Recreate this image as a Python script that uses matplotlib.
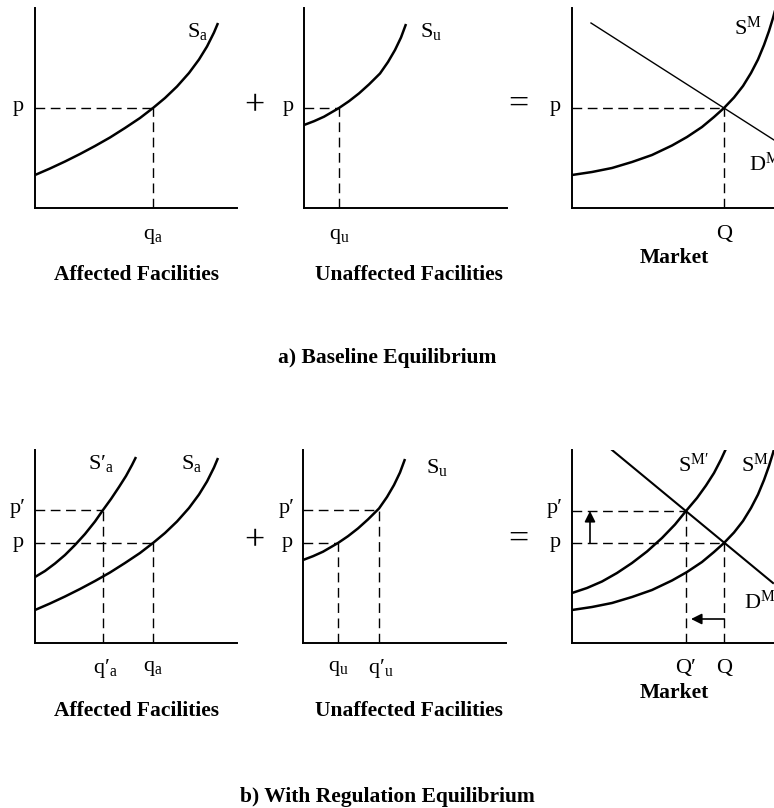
import matplotlib
matplotlib.use('Agg')
import matplotlib.pyplot as plt

plt.rcParams['font.family'] = ['Liberation Serif', 'DejaVu Serif']
plt.rcParams['mathtext.fontset'] = 'custom'
plt.rcParams['mathtext.rm'] = 'Liberation Serif'
plt.rcParams['mathtext.it'] = 'Liberation Serif:italic'
plt.rcParams['mathtext.bf'] = 'Liberation Serif:bold'

W, H = 774, 808

# supply of affected facilities (quantity, price) - baseline and with regulation
sa_q = [0, 15, 30, 45, 60, 75, 90, 105, 118, 130, 142, 154, 164, 172, 179, 183]
sa_p = [33, 39.5, 46.5, 54, 62, 70.5, 80, 90, 100, 110, 121.5, 135, 148.5, 161.5, 175.5, 185]
sa2_q = [0, 10, 20, 30, 40, 50, 60, 68, 76, 84, 91, 97, 101]
sa2_p = [66, 72, 79.5, 88, 98, 109, 121.5, 133, 144, 156, 167, 178, 186]

# supply of unaffected facilities
su_q = [0, 10, 20, 35, 45, 55, 65, 76, 84, 91, 97, 102]
su_p = [83, 86.8, 91.3, 100, 106.8, 114.6, 123.6, 134.5, 146, 158, 170.5, 184]

# market supply, baseline and with regulation
sm_q = [0, 20, 40, 60, 80, 100, 115, 130, 142, 152, 162, 171, 179, 186, 192, 197, 201, 205, 209]
sm_p = [33, 36, 40, 46, 53, 62.5, 71, 81, 91, 100, 110.5, 122, 135, 148.5, 163, 177, 190, 205, 222]
sm2_q = [0, 15, 30, 45, 60, 75, 90, 103, 114, 125, 134, 142, 149, 155]
sm2_p = [50, 55, 61.5, 70, 80, 91.5, 105, 118.5, 132, 145, 157.5, 170, 183.5, 196.5]

# market demand (end points)
dm_q = [19, 202]
dm_p = [185, 68]
dm2_q = [40, 201]
dm2_p = [193, 60]

# equilibrium prices and quantities
p_base, p_reg = 100, 133
pm_reg = 132
qa_base, qa_reg = 118, 68
qu_base, qu_reg = 35, 76
Q_base, Q_reg = 152, 114

fig = plt.figure(figsize=(W / 100, H / 100), dpi=100)

curve = dict(color='black', lw=1.8, solid_capstyle='butt', solid_joinstyle='round')
dash = dict(color='black', lw=1.0, dashes=(7, 4))
fs = 16


def panel(x0, y0, w, h):
    # x0, y0: corner of the axes in picture pixels, measured from the top
    ax = fig.add_axes([x0 / W, (H - y0) / H, w / W, h / H])
    ax.set_xlim(0, w)
    ax.set_ylim(0, h)
    ax.spines['top'].set_visible(False)
    ax.spines['right'].set_visible(False)
    ax.spines['left'].set_linewidth(1.4)
    ax.spines['bottom'].set_linewidth(1.4)
    ax.set_xticks([])
    ax.set_yticks([])
    ax.patch.set_alpha(0)
    return ax


def guide(ax, q, p):
    ax.plot([0, q], [p, p], **dash)
    ax.plot([q, q], [0, p], **dash)


def label(ax, x, y, s, **kw):
    ax.text(x, y, s, fontsize=fs, ha='center', va='center', clip_on=False, **kw)


def bold(x, y, s):
    fig.text(x / W, 1 - y / H, s, fontsize=15.5, fontweight='bold', ha='center', va='center')


# ---------- a) baseline ----------
ax1 = panel(35, 208, 202, 200)
guide(ax1, qa_base, p_base)
ax1.plot(sa_q, sa_p, **curve)
label(ax1, -17, p_base + 1, 'p')
label(ax1, qa_base, -28, r'$\mathrm{q_a}$')
label(ax1, 163, 177, r'$\mathrm{S_a}$')

ax2 = panel(304, 208, 203, 200)
guide(ax2, qu_base, p_base)
ax2.plot(su_q, su_p, **curve)
label(ax2, -16, p_base + 1, 'p')
label(ax2, qu_base, -28, r'$\mathrm{q_u}$')
label(ax2, 127, 177, r'$\mathrm{S_u}$')

ax3 = panel(572, 208, 240, 200)
guide(ax3, Q_base, p_base)
ax3.plot(sm_q, sm_p, **curve)
ax3.plot(dm_q, dm_p, color='black', lw=1.0)
label(ax3, -17, p_base + 1, 'p')
label(ax3, Q_base, -27, 'Q')
label(ax3, 176, 180, r'$\mathrm{S^M}$')
label(ax3, 193, 44, r'$\mathrm{D^M}$')

fig.text(254 / W, 1 - 107 / H, '+', fontsize=26, ha='center', va='center')
fig.text(518 / W, 1 - 105 / H, '=', fontsize=26, ha='center', va='center')
bold(136, 275, 'Affected Facilities')
bold(409, 275, 'Unaffected Facilities')
bold(674, 258, 'Market')
bold(387, 358, 'a) Baseline Equilibrium')

# ---------- b) with regulation ----------
bx1 = panel(35, 643, 202, 193)
guide(bx1, qa_reg, p_reg)
guide(bx1, qa_base, p_base)
bx1.plot(sa2_q, sa2_p, **curve)
bx1.plot(sa_q, sa_p, **curve)
label(bx1, -17, p_reg + 1, 'p′')
label(bx1, -17, p_base + 1, 'p')
label(bx1, qa_reg + 2, -25, r'$\mathrm{q′_a}$')
label(bx1, qa_base, -25, r'$\mathrm{q_a}$')
label(bx1, 66, 180, r'$\mathrm{S′_a}$')
label(bx1, 157, 180, r'$\mathrm{S_a}$')

bx2 = panel(303, 643, 203, 193)
guide(bx2, qu_reg, p_reg)
guide(bx2, qu_base, p_base)
bx2.plot(su_q, su_p, **curve)
label(bx2, -16, p_reg + 1, 'p′')
label(bx2, -16, p_base + 1, 'p')
label(bx2, qu_base, -25, r'$\mathrm{q_u}$')
label(bx2, qu_reg + 2, -25, r'$\mathrm{q′_u}$')
label(bx2, 134, 175, r'$\mathrm{S_u}$')

bx3 = panel(572, 643, 240, 193)
guide(bx3, Q_reg, pm_reg)
guide(bx3, Q_base, p_base)
bx3.plot(sm2_q, sm2_p, **curve)
bx3.plot(sm_q, sm_p, **curve)
bx3.plot(dm2_q, dm2_p, color='black', lw=1.5)
arrow = dict(arrowstyle='-|>', color='black', lw=1.2, mutation_scale=16, shrinkA=0, shrinkB=0)
bx3.annotate('', xy=(18, pm_reg), xytext=(18, p_base), arrowprops=arrow)
bx3.annotate('', xy=(Q_reg + 5, 24), xytext=(Q_base, 24), arrowprops=arrow)
label(bx3, -17, pm_reg + 2, 'p′')
label(bx3, -17, p_base + 1, 'p')
label(bx3, Q_reg, -25, 'Q′')
label(bx3, Q_base, -25, 'Q')
label(bx3, 122, 178, r'$\mathrm{S^{M′}}$')
label(bx3, 183, 178, r'$\mathrm{S^M}$')
label(bx3, 188, 41, r'$\mathrm{D^M}$')

fig.text(254 / W, 1 - 542 / H, '+', fontsize=26, ha='center', va='center')
fig.text(518 / W, 1 - 540 / H, '=', fontsize=26, ha='center', va='center')
bold(136, 711, 'Affected Facilities')
bold(409, 711, 'Unaffected Facilities')
bold(674, 693, 'Market')
bold(387, 797, 'b) With Regulation Equilibrium')

fig.savefig('out.png', dpi=100)
